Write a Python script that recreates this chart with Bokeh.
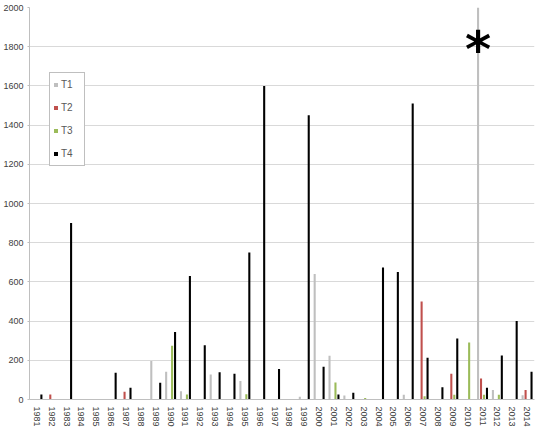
from bokeh.plotting import figure
from bokeh.models import (ColumnDataSource, FactorRange, Legend, LegendItem,
                          Range1d, SingleIntervalTicker)
from bokeh.transform import dodge
from bokeh.core.properties import value
from bokeh.embed import file_html
from bokeh.resources import INLINE

years = [str(y) for y in range(1981, 2015)]
# values per year, 1981..2014
t1 = [0, 0, 0, 0, 0, 0, 0, 0, 197, 141, 42, 0, 128, 0, 95, 0, 0, 0, 14, 640,
      223, 20, 0, 0, 0, 24, 0, 0, 0, 0, 2000, 48, 0, 22]
t2 = [0, 25, 0, 0, 0, 0, 39, 0, 0, 0, 0, 0, 0, 0, 0, 0, 0, 0, 0, 0,
      0, 0, 0, 0, 0, 0, 500, 0, 131, 0, 107, 0, 0, 49]
t3 = [0, 0, 0, 0, 0, 0, 0, 0, 0, 274, 25, 0, 0, 0, 27, 0, 0, 0, 0, 0,
      87, 0, 8, 0, 0, 0, 17, 0, 24, 291, 24, 24, 0, 0]
t4 = [25, 0, 900, 0, 0, 136, 60, 0, 85, 345, 630, 277, 139, 131, 750, 1600, 155, 0, 1450, 167,
      25, 34, 0, 673, 650, 1510, 213, 63, 311, 0, 60, 224, 400, 141]
series_names = ["T1", "T2", "T3", "T4"]
colors = ["#BFBFBF", "#C0504D", "#9BBB59", "#000000"]
offsets = [-0.3, -0.1, 0.1, 0.3]
star_year = ["2011"]
star_y = [1785]

src = ColumnDataSource(dict(year=years, T1=t1, T2=t2, T3=t3, T4=t4))

p = figure(x_range=FactorRange(*years, range_padding=0), y_range=Range1d(0, 2000),
           width=540, height=430, output_backend="svg", toolbar_location=None,
           min_border_left=24, min_border_right=6, min_border_top=7, min_border_bottom=31)
p.outline_line_color = None
p.background_fill_color = "white"

renderers = []
for name, col, off in zip(series_names, colors, offsets):
    r = p.vbar(x=dodge("year", off, range=p.x_range), top=name, width=0.14,
               source=src, fill_color=col, line_color=None)
    renderers.append(r)

star_src = ColumnDataSource(dict(x=star_year, y=star_y, t=["*"]))
p.text(x=dodge("x", -0.3, range=p.x_range), y="y", text="t", source=star_src,
       text_font=value("DejaVu Sans"), text_font_style="bold", text_font_size="50px",
       text_align="center", text_baseline="middle", text_color="black")

p.yaxis.ticker = SingleIntervalTicker(interval=200)
p.ygrid.grid_line_color = "#D9D9D9"
p.xgrid.grid_line_color = None
for ax in (p.xaxis, p.yaxis):
    ax.axis_label = None
    ax.axis_line_color = "#BFBFBF"
    ax.major_tick_line_color = "#BFBFBF"
    ax.minor_tick_line_color = None
    ax.major_label_text_font = "Liberation Sans"
    ax.major_label_text_font_size = "9px"
    ax.major_label_text_color = "#404040"
p.yaxis.major_tick_out = 2
p.yaxis.major_tick_in = 0
p.yaxis.major_label_standoff = 2
p.xaxis.major_tick_out = 0
p.xaxis.major_tick_in = 0
p.xaxis.major_label_orientation = "vertical"
p.xaxis.major_label_standoff = 7

legend = Legend(items=[LegendItem(label=n, renderers=[r]) for n, r in zip(series_names, renderers)],
                location=(20, 233), orientation="vertical",
                glyph_width=5, glyph_height=5, label_standoff=3,
                label_text_font="Liberation Sans", label_text_font_size="10px",
                label_text_color="#595959", label_height=17, spacing=6,
                padding=3, margin=0, border_line_color="#7F7F7F",
                border_line_width=1, background_fill_alpha=1)
p.add_layout(legend)

open("out.html", "w").write(file_html(p, INLINE))
